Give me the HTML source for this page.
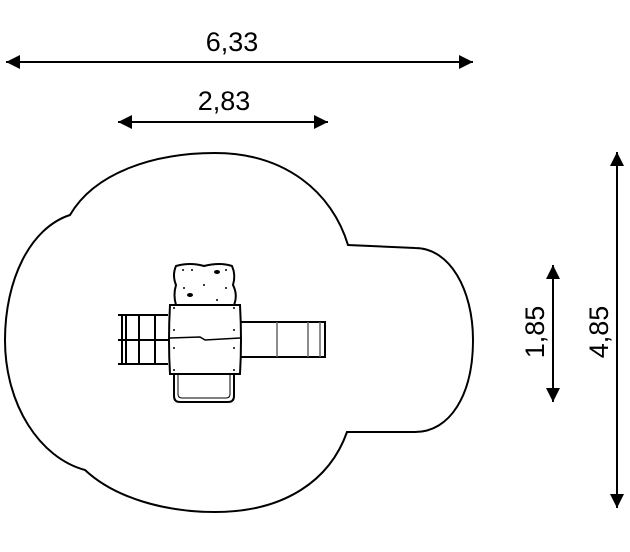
<!DOCTYPE html>
<html><head><style>body{margin:0;background:#fff}svg{display:block}</style></head><body>
<svg width="630" height="552" viewBox="0 0 630 552" xmlns="http://www.w3.org/2000/svg">
<defs><marker id="a" viewBox="0 0 10 10" refX="10" refY="5" markerWidth="18" markerHeight="14" markerUnits="userSpaceOnUse" orient="auto-start-reverse"><path d="M0,0 L10,5 L0,10 Z" fill="#000"/></marker></defs>
<g stroke="#000" stroke-width="2" fill="none">
<line x1="6" y1="62" x2="473" y2="62" marker-start="url(#a)" marker-end="url(#a)"/>
<line x1="118" y1="122" x2="328" y2="122" marker-start="url(#a)" marker-end="url(#a)"/>
<line x1="617" y1="152" x2="617" y2="508" marker-start="url(#a)" marker-end="url(#a)"/>
<line x1="553" y1="265" x2="553" y2="402" marker-start="url(#a)" marker-end="url(#a)"/>
<path d="M70,215 C95,172 155,153 215,153 C285,153 332,192 348,245 L415,248 C450,248 473,290 473,340 C473,395 450,432 415,432 L347,432 C330,480 285,512 215,512 C165,512 115,498 85,470 C40,458 5,405 5,340 C5,280 30,228 70,215 Z"/>
</g>
<g stroke="#000" stroke-width="2" fill="#fff">
<path d="M118,315 H168 M118,364 H168 M118,340 H168" />
<path d="M126,315 V364 M139,315 V364 M155,315 V364 M122,315 V364"/>
<rect x="240" y="322" width="85" height="35"/>
<path d="M277,322 V357 M308,322 V357 M320,322 V357" stroke="#666" stroke-width="1.5"/>
<path d="M174,374 V396 Q174,402 180,402 H228 Q234,402 234,396 V374"/>
<path d="M178,374 V394 Q178,398 182,398 H226 Q230,398 230,394 V374" stroke-width="1"/>
<path d="M176,266 Q190,262 204,266 Q220,262 232,266 Q236,275 233,285 Q238,295 234,305 L176,305 Q173,295 176,285 Q172,275 176,266 Z"/>
<path d="M170,305 L240,305 Q242,340 240,374 L170,374 Q168,340 170,305 Z"/>
<path d="M170,338 L200,337 L205,340 L240,338" fill="none" stroke-width="1.5"/>
</g>
<g fill="#000"><circle cx="183" cy="270" r="1"/><circle cx="192" cy="270" r="1"/><circle cx="226" cy="270" r="1"/><circle cx="184" cy="288" r="1"/><circle cx="204" cy="285" r="1"/><circle cx="226" cy="288" r="1"/><circle cx="217" cy="300" r="1"/><ellipse cx="217" cy="272" rx="3" ry="2"/><ellipse cx="190" cy="295" rx="3" ry="2"/>
<circle cx="174" cy="308" r="1"/><circle cx="234" cy="308" r="1"/><circle cx="174" cy="330" r="1"/><circle cx="234" cy="330" r="1"/><circle cx="174" cy="348" r="1"/><circle cx="234" cy="348" r="1"/><circle cx="174" cy="370" r="1"/><circle cx="234" cy="370" r="1"/></g>
<g font-family="Liberation Sans, sans-serif" font-size="27" fill="#000" text-anchor="middle">
<text x="232" y="51">6,33</text>
<text x="224" y="110">2,83</text>
<text transform="translate(608,332) rotate(-90)">4,85</text>
<text transform="translate(544,332) rotate(-90)">1,85</text>
</g>
</svg>
</body></html>
